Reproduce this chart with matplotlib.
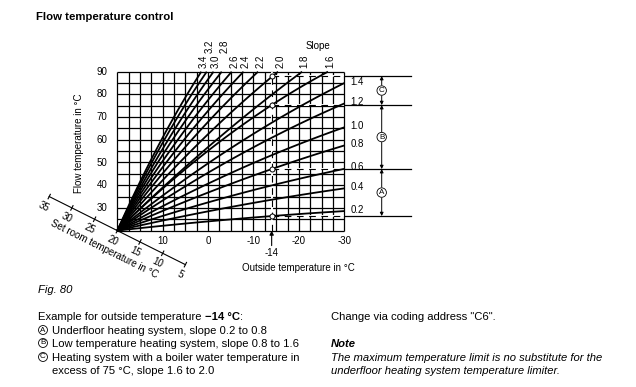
import numpy as np
import matplotlib
matplotlib.use("Agg")
import matplotlib.pyplot as plt
from matplotlib.transforms import IdentityTransform, blended_transform_factory

plt.rcParams['font.family'] = ['Liberation Sans', 'DejaVu Sans']

# ---------------- data ----------------
slopes = [0.2, 0.4, 0.6, 0.8, 1.0, 1.2, 1.4, 1.6, 1.8, 2.0, 2.2, 2.4, 2.6, 2.8, 3.0, 3.2, 3.4]
# all curves start at the set room temperature point
origin_outside = 20
origin_flow = 20
# end point of each curve (right edge at -30 °C, or where it leaves the top at 90 °C)
end_outside = [-30, -30, -30, -30, -30, -30, -30, -26.4, -20.7, -15.4, -11.0, -7.8, -5.2, -3.0, -1.2, 0.3, 1.5]
end_flow = [28.6, 38.6, 47.2, 57.5, 65.5, 76.0, 85.0, 90, 90, 90, 90, 90, 90, 90, 90, 90, 90]
# one intermediate point read on each curve
mid_outside = [-14, -14, -14, -14, -14, -14, -14, -14, -0.4, 2.3, 4.5, 6.1, 7.4, 8.5, 9.4, 10.2, 10.8]
mid_flow = [26.4, 33.6, 39.9, 47.1, 53.2, 60.9, 67.5, 75.3, 57.5, 58.0, 58.0, 58.0, 58.0, 58.0, 58.0, 58.0, 58.0]

outside_ticks = [10, 0, -10, -20, -30]
flow_ticks = [30, 40, 50, 60, 70, 80, 90]
room_ticks = [35, 30, 25, 20, 15, 10, 5]

example_outside = -14
example_slopes = [0.2, 0.8, 1.6, 2.0]
example_flow = [26.4, 47.1, 75.3, 88.1]
range_letters = ['A', 'B', 'C']

# ---------------- figure ----------------
W, H = 636, 387
fig = plt.figure(figsize=(W / 100, H / 100), dpi=100)
fig.patch.set_facecolor('white')
K = 'black'
FS = 7

GX0, GX1, GY0, GY1 = 117.3, 344.3, 71.7, 230.6   # grid box in pixels (y from top)
GW, GH = GX1 - GX0, GY1 - GY0
ax = fig.add_axes([GX0 / W, 1 - GY1 / H, GW / W, GH / H])
ax.set_xlim(20, -30)
ax.set_ylim(20, 90)
ax.axis('off')


def ftext(x, y, s, **kw):
    return fig.text(x / W, 1 - y / H, s, **kw)


# grid
ax.vlines(np.arange(-30, 20.01, 2.5), 20, 90, colors=K, lw=0.9, zorder=1, clip_on=False)
ax.hlines(np.arange(20, 90.01, 5), -30, 20, colors=K, lw=0.9, zorder=1, clip_on=False)

# example dashed lines (light white under-stroke then black dashes)
for v in example_flow:
    ax.plot([example_outside, -30], [v, v], color='white', lw=1.4, zorder=2, solid_capstyle='butt')
    ax.plot([example_outside, -30], [v, v], color=K, lw=0.8, dashes=(6, 5), zorder=4)
ax.plot([example_outside, example_outside], [20, 90], color='white', lw=1.4, zorder=2)
ax.plot([example_outside, example_outside], [20, 90], color=K, lw=0.8, dashes=(6, 5), zorder=4)

# heating curves
for s, xm, ym, xe, ye in zip(slopes, mid_outside, mid_flow, end_outside, end_flow):
    coef = np.polyfit([origin_outside, xm, xe], [origin_flow, ym, ye], 2)
    xs = np.linspace(origin_outside, xe, 120)
    ax.plot(xs, np.polyval(coef, xs), color=K, lw=1.3, zorder=3,
            solid_capstyle='butt', clip_on=False)

# example circles
ax.plot([example_outside] * len(example_flow), example_flow, 'o', ms=3.6,
        mfc='white', mec=K, mew=0.7, zorder=6, clip_on=False)

# arrow under -14
ax.annotate('', xy=(example_outside, 20), xycoords='data',
            xytext=(0, -15), textcoords='offset pixels',
            arrowprops=dict(arrowstyle='-|>', color=K, lw=0.8, mutation_scale=6,
                            shrinkA=0, shrinkB=0), annotation_clip=False)
ax.annotate(f'{example_outside}', xy=(example_outside, 20), xytext=(0, -22.5),
            textcoords='offset pixels', ha='center', va='center', fontsize=FS,
            annotation_clip=False)

# tick labels
ytr = ax.get_yaxis_transform()
xtr = ax.get_xaxis_transform()
for v in flow_ticks:
    ax.text(-10 / GW, v, str(v), transform=ytr, ha='right', va='center', fontsize=FS)
for v in outside_ticks:
    ax.text(v, -10 / GH, str(v), transform=xtr, ha='center', va='center', fontsize=FS)

ftext(79, 143, 'Flow temperature in °C', rotation=90, ha='center', va='center', fontsize=FS)
ftext(298, 268, 'Outside temperature in °C', ha='center', va='center', fontsize=FS)

# slope labels
for s, xe, ye in zip(slopes, end_outside, end_flow):
    if ye >= 90:
        lift = 18.7 if s in (3.2, 2.8) else 3.7
        ax.annotate(f'{s:.1f}', xy=(xe, 90), xytext=(2.5, lift), textcoords='offset pixels',
                    rotation=90, ha='center', va='bottom', fontsize=FS, annotation_clip=False)
    else:
        ax.annotate(f'{s:.1f}', xy=(-30, ye), xytext=(6, 1.5), textcoords='offset pixels',
                    ha='left', va='center', fontsize=FS, annotation_clip=False)
ftext(318, 46, 'Slope', ha='center', va='center', fontsize=FS)

# right brackets
btr = blended_transform_factory(ax.transAxes, ax.transData)
xb_end = (411 - GX0) / GW
xb = (381.7 - GX0) / GW
for v in example_flow:
    ax.plot([1.0, xb_end], [v, v], color=K, lw=0.9, transform=btr, clip_on=False)
for letter, lo, hi in zip(range_letters, example_flow[:-1], example_flow[1:]):
    mid = (lo + hi) / 2
    ax.text(xb, mid, letter, transform=btr, ha='center', va='center', fontsize=5.8,
            bbox=dict(boxstyle='circle,pad=0.15', fc='white', ec=K, lw=0.6), zorder=7)
    for tgt in (lo, hi):
        ax.annotate('', xy=(xb, tgt), xycoords=btr, xytext=(xb, mid), textcoords=btr,
                    arrowprops=dict(arrowstyle='-|>', color=K, lw=0.7, mutation_scale=5,
                                    shrinkA=3.8, shrinkB=0), annotation_clip=False)

# set room temperature axis (diagonal through the origin)
ax.plot([room_ticks[0], room_ticks[-1]], [room_ticks[0], room_ticks[-1]], color=K, lw=0.8,
        clip_on=False, zorder=3)
p0 = ax.transData.transform((room_ticks[0], room_ticks[0]))
p1 = ax.transData.transform((room_ticks[-1], room_ticks[-1]))
d = (p1 - p0) / np.hypot(*(p1 - p0))
n = np.array([d[1], -d[0]])  # perpendicular, pointing down-left
ang = np.degrees(np.arctan2(d[1], d[0]))
ident = IdentityTransform()
for r in room_ticks:
    p = ax.transData.transform((r, r))
    a, b = p - 2.5 * n, p + 2.5 * n
    fig.add_artist(plt.Line2D([a[0], b[0]], [a[1], b[1]], color=K, lw=0.8, transform=ident))
    q = p + 11 * n
    fig.text(q[0], q[1], str(r), transform=ident, rotation=ang, rotation_mode='anchor',
             ha='center', va='center', fontsize=FS)
pc = ax.transData.transform((20.75, 20.75)) + 22 * n
fig.text(pc[0], pc[1], 'Set room temperature in °C', transform=ident, rotation=ang,
         rotation_mode='anchor', ha='center', va='center', fontsize=FS)

# ---------------- texts ----------------
CFS = 8.1
ftext(36, 20, 'Flow temperature control', fontsize=8.2, fontweight='bold', va='baseline')
ftext(38, 293, 'Fig. 80', fontsize=CFS, style='italic', va='baseline')

renderer = fig.canvas.get_renderer()


def wpx(s, **kw):
    t = fig.text(0, 0, s, **kw)
    w = t.get_window_extent(renderer).width
    t.remove()
    return w


space = wpx('a a', fontsize=CFS) - wpx('aa', fontsize=CFS)
x = 38
t1 = 'Example for outside temperature'
ftext(x, 320, t1, fontsize=CFS, va='baseline')
x += wpx(t1, fontsize=CFS) + space
t2 = f'\u2212{abs(example_outside)} °C'
ftext(x, 320, t2, fontsize=CFS, fontweight='bold', va='baseline')
x += wpx(t2, fontsize=CFS, fontweight='bold')
ftext(x, 320, ':', fontsize=CFS, va='baseline')

rows = [
    ('A', 334, 'Underfloor heating system, slope 0.2 to 0.8'),
    ('B', 347, 'Low temperature heating system, slope 0.8 to 1.6'),
    ('C', 361, 'Heating system with a boiler water temperature in'),
    (None, 374, 'excess of 75 °C, slope 1.6 to 2.0'),
]
for letter, yb, s in rows:
    if letter:
        ftext(43, yb - 4, letter, fontsize=5.8, ha='center', va='center',
              bbox=dict(boxstyle='circle,pad=0.12', fc='white', ec=K, lw=0.6))
    ftext(52, yb, s, fontsize=CFS, va='baseline')

ftext(331, 320, 'Change via coding address "C6".', fontsize=CFS, va='baseline')
ftext(331, 347, 'Note', fontsize=CFS, fontweight='bold', style='italic', va='baseline')
ftext(331, 361, 'The maximum temperature limit is no substitute for the', fontsize=CFS,
      style='italic', va='baseline')
ftext(331, 374, 'underfloor heating system temperature limiter.', fontsize=CFS,
      style='italic', va='baseline')

fig.savefig('out.png', dpi=100)
